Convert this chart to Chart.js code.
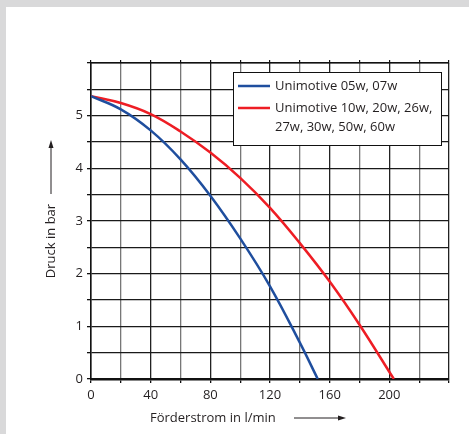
<!DOCTYPE html>
<html>
<head>
<meta charset="utf-8">
<script src="https://cdn.jsdelivr.net/npm/chart.js@4.4.1/dist/chart.umd.min.js"></script>
<style>
  html, body { margin: 0; padding: 0; }
  body { width: 469px; height: 434px; background: #d9d9da; position: relative; overflow: hidden; }
  #panel { position: absolute; left: 6px; top: 7px; right: 0; bottom: 0; background: #fff; }
  #chart { position: absolute; left: 0; top: 0; }
</style>
</head>
<body>
<div id="panel"></div>
<canvas id="chart" width="469" height="434"></canvas>
<script>
// Förderstrom (l/min) und Druck (bar)
const blueFlow = [0, 20, 40, 60, 80, 100, 120, 140, 152];
const bluePressure = [5.37, 5.12, 4.72, 4.17, 3.48, 2.67, 1.76, 0.69, 0];
const redFlow = [0, 20, 40, 60, 80, 100, 120, 140, 160, 180, 203];
const redPressure = [5.37, 5.24, 5.03, 4.7, 4.3, 3.82, 3.25, 2.58, 1.85, 1.03, 0];

const blueLegend = ["Unimotive 05w, 07w"];
const redLegend = ["Unimotive 10w, 20w, 26w,", "27w, 30w, 50w, 60w"];

const xLabels = [0, 40, 80, 120, 160, 200];
const yLabels = [0, 1, 2, 3, 4, 5];

const xTitle = "Förderstrom in l/min";
const yTitle = "Druck in bar";

const FONT = "'Open Sans', sans-serif";
const TEXT = "#231f20";

function toPoints(xs, ys) {
    return xs.map((x, i) => ({ x: x, y: ys[i] }));
}

function arrow(ctx, x1, y1, x2, y2) {
    const a = Math.atan2(y2 - y1, x2 - x1);
    ctx.beginPath();
    ctx.moveTo(x1, y1);
    ctx.lineTo(x2 - 6 * Math.cos(a), y2 - 6 * Math.sin(a));
    ctx.stroke();
    ctx.beginPath();
    ctx.moveTo(x2, y2);
    ctx.lineTo(x2 - 8 * Math.cos(a) + 2.5 * Math.sin(a), y2 - 8 * Math.sin(a) - 2.5 * Math.cos(a));
    ctx.lineTo(x2 - 8 * Math.cos(a) - 2.5 * Math.sin(a), y2 - 8 * Math.sin(a) + 2.5 * Math.cos(a));
    ctx.closePath();
    ctx.fill();
}

const extras = {
    id: 'extras',
    afterDraw(chart) {
        const ctx = chart.ctx;
        ctx.save();
        ctx.fillStyle = TEXT;
        ctx.strokeStyle = TEXT;
        ctx.lineWidth = 1;
        ctx.font = "13px " + FONT;

        // x title + arrow
        ctx.textBaseline = 'middle';
        ctx.textAlign = 'left';
        ctx.fillText(xTitle, 150, 418);
        arrow(ctx, 294, 418, 346, 418);

        // y title + arrow
        ctx.save();
        ctx.translate(51, 241);
        ctx.rotate(-Math.PI / 2);
        ctx.textAlign = 'center';
        ctx.fillText(yTitle, 0, 0);
        ctx.restore();
        arrow(ctx, 51, 194, 51, 140);

        // legend box
        ctx.fillStyle = '#fff';
        ctx.fillRect(233.5, 72.5, 208, 73);
        ctx.strokeStyle = '#111';
        ctx.strokeRect(233.5, 72.5, 208, 73);

        const ds = chart.data.datasets;
        const entries = [[ds[0], blueLegend, 86], [ds[1], redLegend, 108]];
        entries.forEach(([d, lines, y]) => {
            ctx.strokeStyle = d.borderColor;
            ctx.lineWidth = 2.5;
            ctx.beginPath();
            ctx.moveTo(238, y);
            ctx.lineTo(270, y);
            ctx.stroke();
            ctx.fillStyle = TEXT;
            lines.forEach((t, i) => ctx.fillText(t, 275, y + i * 19));
        });
        ctx.restore();
    }
};

new Chart(document.getElementById('chart'), {
    type: 'line',
    data: {
        datasets: [
            {
                label: blueLegend.join(' '),
                data: toPoints(blueFlow, bluePressure),
                borderColor: '#1f4e9e',
                borderWidth: 2.5,
                pointRadius: 0,
                tension: 0.4,
                fill: false
            },
            {
                label: redLegend.join(' '),
                data: toPoints(redFlow, redPressure),
                borderColor: '#ee1d24',
                borderWidth: 2.5,
                pointRadius: 0,
                tension: 0.4,
                fill: false
            }
        ]
    },
    options: {
        responsive: false,
        animation: false,
        layout: { padding: { left: 0, top: 0, right: 20, bottom: 0 } },
        plugins: {
            legend: { display: false },
            tooltip: { enabled: false }
        },
        scales: {
            x: {
                type: 'linear',
                min: 0,
                max: 240,
                afterFit: s => { s.height = 55; },
                afterBuildTicks: s => { s.ticks = Array.from({ length: 13 }, (_, i) => ({ value: i * 20 })); },
                ticks: {
                    autoSkip: false,
                    maxRotation: 0,
                    padding: 4,
                    color: TEXT,
                    font: { family: FONT, size: 13 },
                    callback: v => xLabels.includes(v) ? String(v) : ''
                },
                grid: {
                    color: c => (c.tick && c.tick.value % 40 === 0) ? '#222' : '#777',
                    lineWidth: 1.3,
                    tickLength: 4,
                    tickColor: '#111'
                },
                border: { color: '#111', width: 2.5 }
            },
            x2: {
                type: 'linear',
                position: 'top',
                min: 0,
                max: 240,
                afterFit: s => { s.height = 63; },
                afterBuildTicks: s => { s.ticks = Array.from({ length: 13 }, (_, i) => ({ value: i * 20 })); },
                ticks: { display: false },
                grid: { drawOnChartArea: false, tickLength: 3, color: '#111', lineWidth: 1.2 },
                border: { color: '#111', width: 1.5 }
            },
            y: {
                type: 'linear',
                min: 0,
                max: 6,
                afterFit: s => { s.width = 91; },
                afterBuildTicks: s => { s.ticks = Array.from({ length: 13 }, (_, i) => ({ value: i * 0.5 })); },
                ticks: {
                    autoSkip: false,
                    padding: 4,
                    color: TEXT,
                    font: { family: FONT, size: 13 },
                    callback: v => yLabels.includes(v) ? String(v) : ''
                },
                grid: {
                    color: '#1a1a1a',
                    lineWidth: 1.3,
                    tickLength: 4,
                    tickColor: '#111'
                },
                border: { color: '#111', width: 1.5 }
            }
        }
    },
    plugins: [extras]
});
</script>
</body>
</html>
